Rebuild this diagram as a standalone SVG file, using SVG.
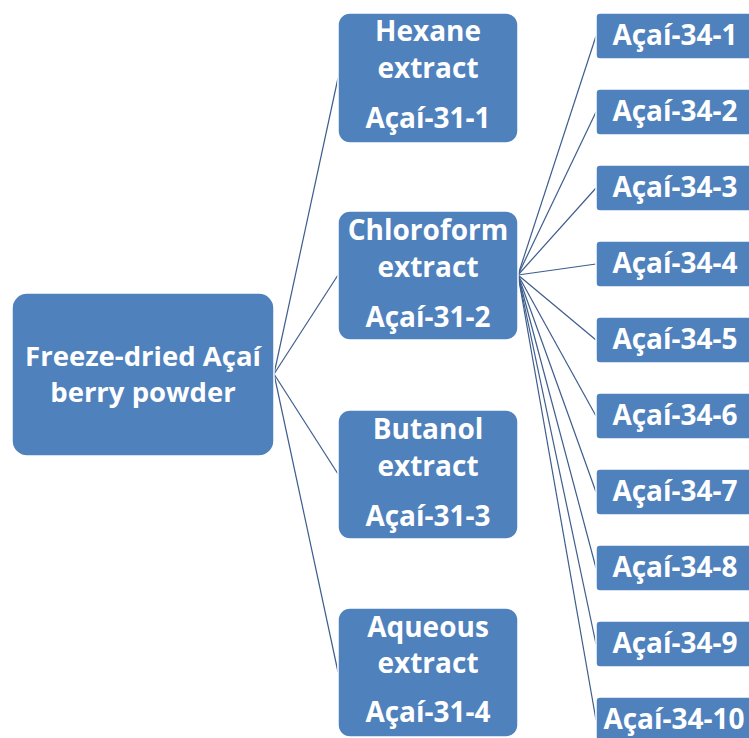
<svg xmlns="http://www.w3.org/2000/svg" width="749" height="738" viewBox="0 0 749 738">
  <style>
    .box { fill: #4f81bd; stroke: #ffffff; stroke-width: 1.5; }
    .lbl { font-family: "Open Sans", "Noto Sans", "Liberation Sans", sans-serif; font-weight: bold; font-size: 28px; fill: #ffffff; text-anchor: middle; }
    .root { font-size: 27.5px; }
    .link { stroke: #3d5d8c; stroke-width: 1.2; fill: none; }
  </style>
  <rect width="749" height="738" fill="#ffffff"/>

  <!-- connectors -->
  <g id="connectors">
    <line class="link" x1="274" y1="374" x2="338" y2="78"/>
    <line class="link" x1="274" y1="374" x2="338" y2="275"/>
    <line class="link" x1="274" y1="374" x2="338" y2="474"/>
    <line class="link" x1="274" y1="374" x2="338" y2="672"/>
    <line class="link" x1="518" y1="275" x2="596" y2="36"/>
    <line class="link" x1="518" y1="275" x2="596" y2="112"/>
    <line class="link" x1="518" y1="275" x2="596" y2="188"/>
    <line class="link" x1="518" y1="275" x2="596" y2="264"/>
    <line class="link" x1="518" y1="275" x2="596" y2="340"/>
    <line class="link" x1="518" y1="275" x2="596" y2="416"/>
    <line class="link" x1="518" y1="275" x2="596" y2="492"/>
    <line class="link" x1="518" y1="275" x2="596" y2="568"/>
    <line class="link" x1="518" y1="275" x2="596" y2="644"/>
    <line class="link" x1="518" y1="275" x2="596" y2="720"/>
  </g>

  <!-- root -->
  <g id="root">
    <rect class="box" x="12" y="293" width="262" height="163" rx="15"/>
    <text class="lbl root" x="143" y="366">Freeze-dried Açaí</text>
    <text class="lbl root" x="143" y="402">berry powder</text>
  </g>

  <!-- extracts -->
  <g id="hexane">
    <rect class="box" x="338" y="13" width="180" height="130" rx="12"/>
    <text class="lbl" x="428" y="41">Hexane</text>
    <text class="lbl" x="428" y="78">extract</text>
    <text class="lbl" x="428" y="128">Açaí-31-1</text>
  </g>
  <g id="chloroform">
    <rect class="box" x="338" y="211" width="180" height="129" rx="12"/>
    <text class="lbl" x="428" y="240">Chloroform</text>
    <text class="lbl" x="428" y="277">extract</text>
    <text class="lbl" x="428" y="327">Açaí-31-2</text>
  </g>
  <g id="butanol">
    <rect class="box" x="338" y="410" width="180" height="129" rx="12"/>
    <text class="lbl" x="428" y="439">Butanol</text>
    <text class="lbl" x="428" y="476">extract</text>
    <text class="lbl" x="428" y="526">Açaí-31-3</text>
  </g>
  <g id="aqueous">
    <rect class="box" x="338" y="608" width="180" height="129" rx="12"/>
    <text class="lbl" x="428" y="637">Aqueous</text>
    <text class="lbl" x="428" y="673">extract</text>
    <text class="lbl" x="428" y="722">Açaí-31-4</text>
  </g>

  <!-- fractions of the chloroform extract -->
  <g id="f1"><rect class="box" x="596" y="13" width="170" height="46" rx="4"/><text class="lbl" x="675" y="45">Açaí-34-1</text></g>
  <g id="f2"><rect class="box" x="596" y="89" width="170" height="46" rx="4"/><text class="lbl" x="675" y="121">Açaí-34-2</text></g>
  <g id="f3"><rect class="box" x="596" y="165" width="170" height="46" rx="4"/><text class="lbl" x="675" y="197">Açaí-34-3</text></g>
  <g id="f4"><rect class="box" x="596" y="241" width="170" height="46" rx="4"/><text class="lbl" x="675" y="273">Açaí-34-4</text></g>
  <g id="f5"><rect class="box" x="596" y="317" width="170" height="46" rx="4"/><text class="lbl" x="675" y="349">Açaí-34-5</text></g>
  <g id="f6"><rect class="box" x="596" y="393" width="170" height="46" rx="4"/><text class="lbl" x="675" y="425">Açaí-34-6</text></g>
  <g id="f7"><rect class="box" x="596" y="469" width="170" height="46" rx="4"/><text class="lbl" x="675" y="501">Açaí-34-7</text></g>
  <g id="f8"><rect class="box" x="596" y="545" width="170" height="46" rx="4"/><text class="lbl" x="675" y="577">Açaí-34-8</text></g>
  <g id="f9"><rect class="box" x="596" y="621" width="170" height="46" rx="4"/><text class="lbl" x="675" y="653">Açaí-34-9</text></g>
  <g id="f10"><rect class="box" x="596" y="697" width="170" height="46" rx="4"/><text class="lbl" x="674" y="729">Açaí-34-10</text></g>
</svg>
